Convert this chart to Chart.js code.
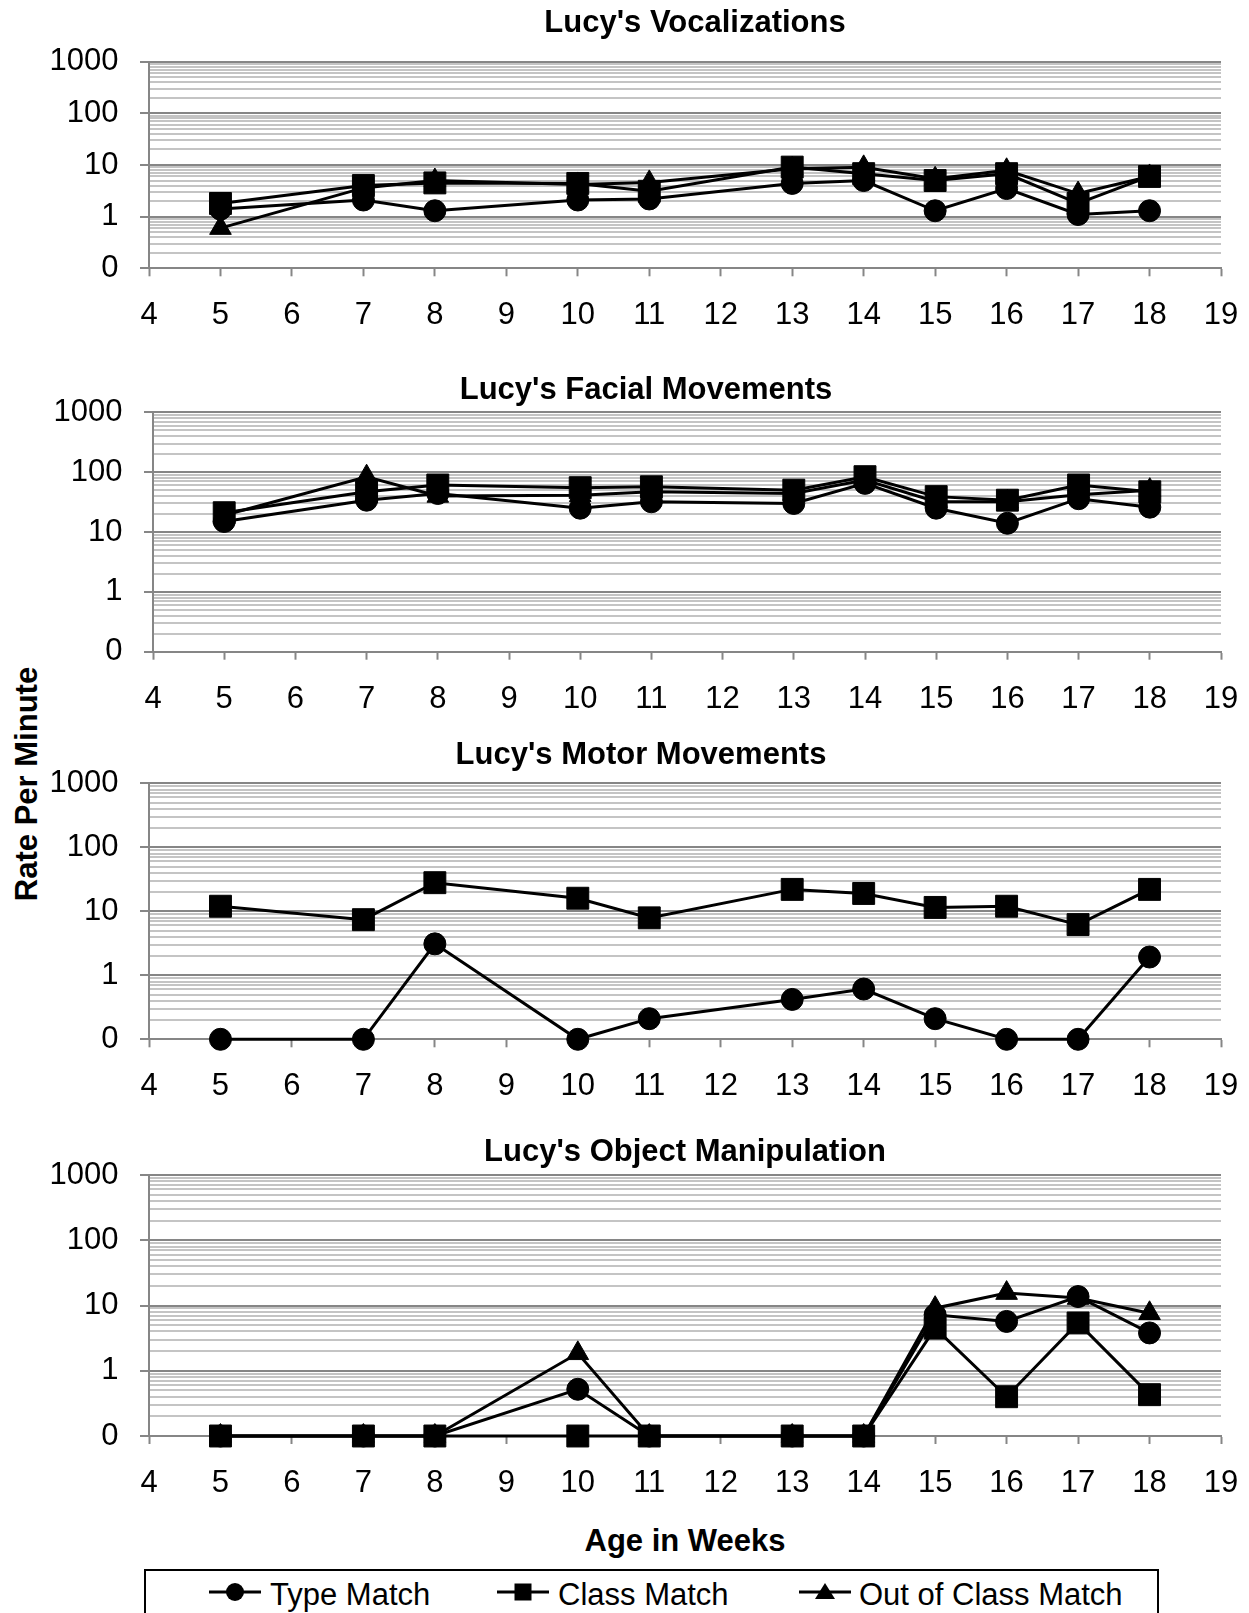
<!DOCTYPE html>
<html>
<head>
<meta charset="utf-8">
<title>Lucy's Rate Per Minute</title>
<script src="https://cdn.jsdelivr.net/npm/chart.js@4.4.1/dist/chart.umd.min.js"></script>
<style>
  html, body { margin: 0; padding: 0; background: #fff; }
  body { position: relative; width: 1249px; height: 1613px; overflow: hidden;
         font-family: 'Liberation Sans', Arial, sans-serif; color: #000; }
  canvas { position: absolute; left: 0; }
  .axis-title { position: absolute; font-weight: bold; font-size: 31px; line-height: 1;
                white-space: nowrap; transform: translate(-50%, -50%); }
  #yTitle { transform: translate(-50%, -50%) rotate(-90deg); }
  #legend { position: absolute; left: 144px; top: 1569px; width: 1015px; height: 70px;
            border: 2px solid #000; box-sizing: border-box; }
  .legend-text { position: absolute; font-size: 31px; line-height: 1; white-space: nowrap;
                 transform: translateY(-50%); }
  .legend-mark { position: absolute; transform: translate(-50%, -50%); }
</style>
</head>
<body>
<div class="axis-title" id="yTitle" style="left:26px; top:784px;">Rate Per Minute</div>
<div class="axis-title" style="left:685px; top:1540px;">Age in Weeks</div>
<div id="legend"></div>

<script>
// ---- data ----------------------------------------------------------------
const weeks = [5, 7, 8, 10, 11, 13, 14, 15, 16, 17, 18];

const seriesNames = ['Type Match', 'Class Match', 'Out of Class Match'];
const panelTitles = [
  "Lucy's Vocalizations",
  "Lucy's Facial Movements",
  "Lucy's Motor Movements",
  "Lucy's Object Manipulation"
];

// rate per minute, one value per week (0 = no occurrences)
const vocalType       = [1.4, 2.1, 1.3, 2.1, 2.2, 4.4, 5.0, 1.3, 3.5, 1.1, 1.3];
const vocalClass      = [1.8, 4.0, 4.5, 4.4, 3.1, 9.1, 6.8, 5.0, 6.8, 1.8, 6.0];
const vocalOutOfClass = [0.6, 3.6, 5.0, 4.2, 4.6, 8.5, 9.0, 5.4, 7.9, 2.8, 6.0];

const facialType       = [15, 34, 44, 25, 32, 30, 65, 25, 14, 36, 26];
const facialClass      = [21, 47, 61, 55, 57, 50, 84, 39, 34, 61, 47];
const facialOutOfClass = [19, 84, 40, 41, 47, 44, 74, 32, 32, 42, 50];

const motorType  = [0, 0, 3.1, 0, 0.21, 0.42, 0.61, 0.21, 0, 0, 1.93];
const motorClass = [12, 7.4, 28, 16, 7.9, 22, 19, 11.5, 12, 6.2, 22];

const objectType       = [0, 0, 0, 0.52, 0, 0, 0, 7.2, 5.7, 13.7, 3.8];
const objectClass      = [0, 0, 0, 0, 0, 0, 0, 4.5, 0.40, 5.4, 0.43];
const objectOutOfClass = [0, 0, 0, 1.85, 0, 0, 0, 9.1, 15.5, 13, 7.6];

// axis ticks
const xMin = 4, xMax = 19;
const yTickValues = [0.1, 1, 10, 100, 1000];
const yTickLabels = ['0', '1', '10', '100', '1000'];

// ---- styling / layout ----------------------------------------------------
const FONT = "'Liberation Sans', Arial, sans-serif";
const MAJOR_GRID = '#868686';
const MINOR_GRID = '#c4c4c4';
const CANVAS_W = 1249;
const PLOT_RIGHT = 1221;
const Y_MIN = yTickValues[0];
const Y_MAX = yTickValues[yTickValues.length - 1];

const seriesStyle = [
  { pointStyle: 'circle',   radius: 11 },
  { pointStyle: 'rect',     radius: 15.5 },
  { pointStyle: 'triangle', radius: 12.5 }
];

const panels = [
  { title: panelTitles[0], series: [vocalType, vocalClass, vocalOutOfClass],
    box: { titleX: 695, titleY: 23, top: 61.7, bottom: 268.3, left: 149 } },
  { title: panelTitles[1], series: [facialType, facialClass, facialOutOfClass],
    box: { titleX: 646, titleY: 390, top: 412.3, bottom: 651.7, left: 153 } },
  { title: panelTitles[2], series: [motorType, motorClass, null],
    box: { titleX: 641, titleY: 755.8, top: 783.3, bottom: 1039.3, left: 149 } },
  { title: panelTitles[3], series: [objectType, objectClass, objectOutOfClass],
    box: { titleX: 685, titleY: 1152.5, top: 1175, bottom: 1436, left: 149 } }
];

// minor log gridlines: 2..9 within every decade, plus the decades themselves
function logGridValues() {
  const out = [];
  for (let d = Y_MIN; d < Y_MAX * 0.999; d *= 10) {
    for (let m = 1; m <= 9; m++) out.push(+(m * d).toPrecision(6));
  }
  out.push(Y_MAX);
  return out;
}
function decadeIndex(v) {
  return yTickValues.findIndex(t => Math.abs(t - v) < t * 1e-6);
}

// title drawn centred on a given x position
const panelTitlePlugin = {
  id: 'panelTitle',
  afterDraw(chart, args, opts) {
    const ctx = chart.ctx;
    ctx.save();
    ctx.font = 'bold 31px ' + FONT;
    ctx.fillStyle = '#000';
    ctx.textAlign = 'center';
    ctx.textBaseline = 'middle';
    ctx.fillText(opts.text, opts.x, opts.y);
    ctx.restore();
  }
};

function buildPanel(panel) {
  const box = panel.box;
  const cTop = Math.floor(box.titleY - 24);
  const cHeight = Math.ceil(box.bottom - cTop + 66);
  const axisHeight = cHeight - (box.bottom - cTop);

  const canvas = document.createElement('canvas');
  canvas.width = CANVAS_W;
  canvas.height = cHeight;
  canvas.style.top = cTop + 'px';
  canvas.style.width = CANVAS_W + 'px';
  canvas.style.height = cHeight + 'px';
  document.body.appendChild(canvas);

  const datasets = [];
  panel.series.forEach((values, k) => {
    if (!values) return;
    const st = seriesStyle[k];
    datasets.push({
      label: seriesNames[k],
      data: weeks.map((w, i) => ({ x: w, y: values[i] === 0 ? Y_MIN : values[i] })),
      borderColor: '#000',
      backgroundColor: '#000',
      borderWidth: 3,
      tension: 0,
      pointStyle: st.pointStyle,
      pointRadius: st.radius,
      pointBorderWidth: 1,
      pointBackgroundColor: '#000',
      pointBorderColor: '#000',
      clip: false
    });
  });

  new Chart(canvas, {
    type: 'line',
    data: { datasets },
    options: {
      responsive: false,
      animation: false,
      devicePixelRatio: 1,
      layout: { padding: { left: 0, right: CANVAS_W - PLOT_RIGHT, top: box.top - cTop, bottom: 0 } },
      plugins: {
        legend: { display: false },
        title: { display: false },
        tooltip: { enabled: false },
        panelTitle: { text: panel.title, x: box.titleX, y: box.titleY - cTop }
      },
      scales: {
        x: {
          type: 'linear',
          min: xMin,
          max: xMax,
          afterFit: s => { s.height = axisHeight; s.paddingLeft = 0; s.paddingRight = 0; },
          ticks: { stepSize: 1, autoSkip: false, maxRotation: 0, color: '#000',
                   padding: 21, font: { family: FONT, size: 31 } },
          grid: { drawOnChartArea: false, drawTicks: true, tickLength: 8,
                  tickColor: MAJOR_GRID, tickWidth: 2 },
          border: { color: MAJOR_GRID, width: 2 }
        },
        y: {
          type: 'logarithmic',
          min: Y_MIN,
          max: Y_MAX,
          afterFit: s => { s.width = box.left; s.paddingTop = 0; s.paddingBottom = 0; },
          afterBuildTicks: s => {
            s.ticks = logGridValues().map(v => ({ value: v, major: decadeIndex(v) >= 0 }));
          },
          ticks: {
            autoSkip: false, color: '#000', padding: 21.5,
            font: { family: FONT, size: 31 },
            callback: v => { const i = decadeIndex(v); return i >= 0 ? yTickLabels[i] : ''; }
          },
          grid: {
            lineWidth: 2,
            color: c => (c.tick && c.tick.major ? MAJOR_GRID : MINOR_GRID),
            tickLength: 9,
            tickWidth: 2,
            tickColor: c => (c.tick && c.tick.major ? MAJOR_GRID : 'rgba(0,0,0,0)')
          },
          border: { color: MAJOR_GRID, width: 2 }
        }
      }
    },
    plugins: [panelTitlePlugin]
  });
}

panels.forEach(buildPanel);

// ---- legend --------------------------------------------------------------
const legendItems = [
  { mark: 'circle',   markX: 235, textX: 270 },
  { mark: 'square',   markX: 523, textX: 558 },
  { mark: 'triangle', markX: 825, textX: 859 }
];
const legendY = 1594;
const legend = document.getElementById('legend');
const legendLeft = 144, legendTop = 1569;

function markSvg(kind) {
  let shape;
  if (kind === 'circle') shape = '<circle cx="26" cy="13" r="9" fill="#000"/>';
  else if (kind === 'square') shape = '<rect x="17.5" y="4.5" width="17" height="17" fill="#000"/>';
  else shape = '<polygon points="26,4 36,20 16,20" fill="#000"/>';
  return '<svg width="52" height="26" viewBox="0 0 52 26">' +
         '<line x1="0" y1="13" x2="52" y2="13" stroke="#000" stroke-width="3"/>' + shape + '</svg>';
}

legendItems.forEach((it, k) => {
  const m = document.createElement('div');
  m.className = 'legend-mark';
  m.style.left = (it.markX - legendLeft - 2) + 'px';
  m.style.top = (legendY - legendTop - 2) + 'px';
  m.innerHTML = markSvg(it.mark);
  legend.appendChild(m);

  const t = document.createElement('div');
  t.className = 'legend-text';
  t.style.left = (it.textX - legendLeft - 2) + 'px';
  t.style.top = (legendY - legendTop - 2) + 'px';
  t.textContent = seriesNames[k];
  legend.appendChild(t);
});
</script>
</body>
</html>
